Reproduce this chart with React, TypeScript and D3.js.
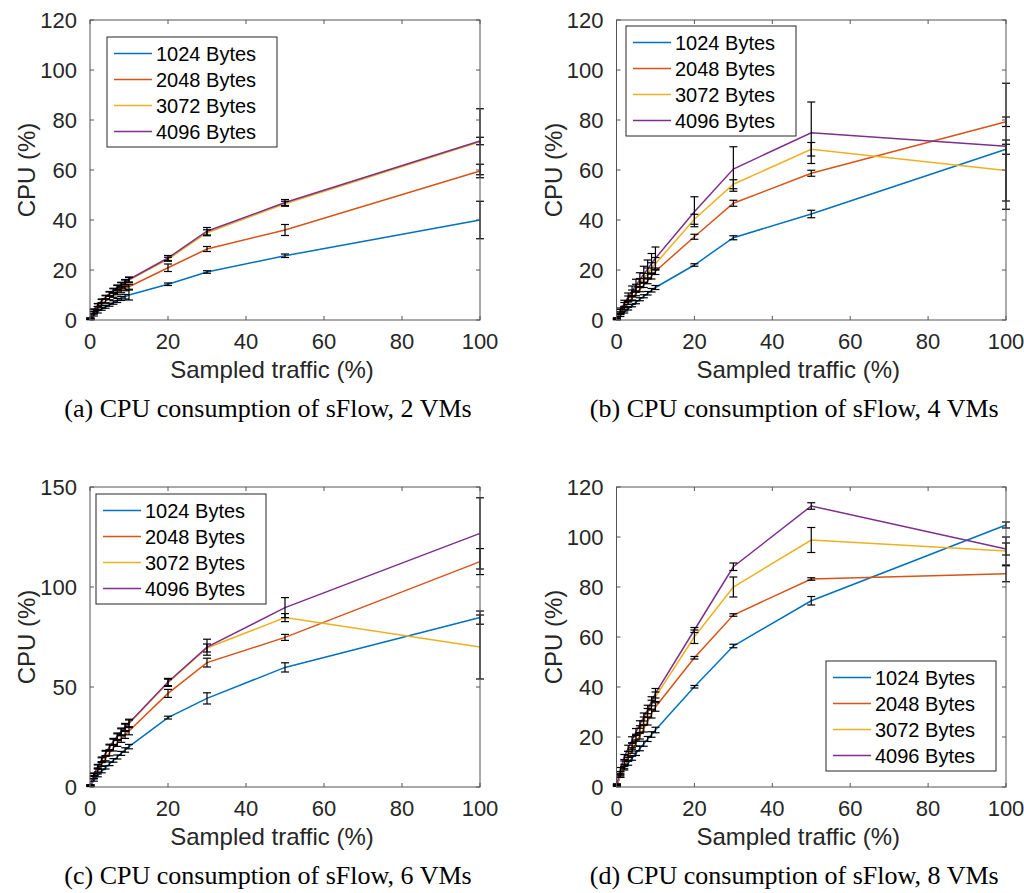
import React from 'react';
import * as d3 from 'd3';

// Sampling rates (%) on the x axis
const sampledTraffic = [0.1, 1, 2, 3, 4, 5, 6, 7, 8, 9, 10, 20, 30, 50, 100];
const packetSizes = ['1024 Bytes', '2048 Bytes', '3072 Bytes', '4096 Bytes'];
const seriesColors = ['#0072BD', '#D95319', '#EDB120', '#7E2F8E'];
const xTicks = [0, 20, 40, 60, 80, 100];
const yTicks120 = [0, 20, 40, 60, 80, 100, 120];
const yTicks150 = [0, 50, 100, 150];

// (a) 2 VMs
const vm2_1024 = [0.3, 2.0, 3.3, 4.4, 5.3, 6.1, 7.0, 7.8, 8.6, 9.3, 10.0, 14.3, 19.2, 25.7, 40.0];
const vm2_2048 = [0.5, 3.0, 4.8, 6.3, 7.6, 8.8, 9.9, 10.9, 11.8, 12.6, 13.3, 20.9, 28.4, 36.0, 59.6];
const vm2_3072 = [0.6, 3.8, 5.9, 7.5, 9.0, 10.4, 11.7, 12.9, 14.0, 15.0, 16.0, 24.3, 34.9, 46.5, 71.3];
const vm2_4096 = [0.6, 3.9, 6.0, 7.7, 9.2, 10.6, 11.9, 13.1, 14.2, 15.2, 16.2, 24.8, 35.5, 47.0, 71.6];
const vm2_1024_err = [0.2, 0.4, 0.5, 0.5, 0.6, 0.6, 0.7, 0.8, 0.8, 0.9, 2.0, 0.5, 0.5, 0.7, 7.5];
const vm2_2048_err = [0.2, 0.5, 0.6, 0.6, 0.7, 0.7, 0.8, 0.8, 0.9, 0.9, 1.0, 1.5, 1.0, 2.2, 2.7];
const vm2_3072_err = [0.2, 0.5, 0.6, 0.7, 0.7, 0.8, 0.8, 0.9, 0.9, 1.0, 1.0, 0.8, 1.2, 1.0, 13.2];
const vm2_4096_err = [0.2, 0.5, 0.6, 0.7, 0.7, 0.8, 0.8, 0.9, 0.9, 1.0, 1.0, 1.0, 1.5, 1.2, 1.5];

// (b) 4 VMs
const vm4_1024 = [0.3, 1.8, 3.2, 4.5, 5.8, 7.1, 8.3, 9.5, 10.7, 11.9, 13.0, 22.0, 32.9, 42.4, 68.3];
const vm4_2048 = [0.4, 2.8, 4.9, 6.9, 8.8, 10.6, 12.3, 14.0, 15.6, 17.6, 19.5, 33.3, 46.7, 58.7, 79.3];
const vm4_3072 = [0.5, 3.4, 6.0, 8.4, 10.6, 12.7, 14.8, 16.7, 18.6, 20.6, 22.5, 40.3, 54.3, 68.3, 59.8];
const vm4_4096 = [0.6, 3.8, 6.6, 9.2, 11.6, 13.9, 16.1, 18.3, 20.4, 22.6, 24.7, 43.3, 60.4, 74.9, 69.5];
const vm4_1024_err = [0.2, 0.4, 0.4, 0.5, 0.5, 0.6, 0.6, 0.6, 0.7, 0.7, 0.8, 0.5, 0.8, 1.5, 2.0];
const vm4_2048_err = [0.2, 0.5, 0.6, 0.7, 0.8, 0.9, 1.0, 1.0, 1.1, 1.2, 1.3, 1.0, 1.2, 1.2, 1.9];
const vm4_3072_err = [0.2, 0.8, 1.0, 1.2, 1.4, 1.6, 1.8, 2.0, 2.2, 2.3, 2.5, 2.0, 1.8, 2.7, 12.2];
const vm4_4096_err = [0.3, 1.0, 1.3, 1.6, 2.0, 2.4, 2.8, 3.2, 3.6, 4.0, 4.5, 6.0, 8.9, 12.3, 25.2];

// (c) 6 VMs
const vm6_1024 = [0.5, 3.5, 5.8, 7.9, 9.8, 11.6, 13.3, 15.0, 16.8, 18.5, 20.2, 34.7, 44.3, 59.8, 84.7];
const vm6_2048 = [0.7, 5.0, 8.5, 11.5, 14.4, 17.0, 19.5, 21.9, 24.0, 26.1, 28.0, 46.8, 62.2, 74.8, 112.7];
const vm6_3072 = [0.8, 6.0, 10.0, 13.4, 16.6, 19.6, 22.4, 25.0, 27.4, 29.6, 31.6, 52.1, 69.5, 84.7, 70.0];
const vm6_4096 = [0.8, 6.2, 10.3, 13.8, 17.0, 20.0, 22.8, 25.4, 27.8, 30.0, 32.0, 52.5, 69.9, 89.7, 126.8];
const vm6_1024_err = [0.3, 0.6, 0.7, 0.8, 0.8, 0.9, 0.9, 1.0, 1.0, 1.1, 1.1, 0.7, 2.8, 2.3, 3.3];
const vm6_2048_err = [0.3, 0.8, 1.0, 1.2, 1.3, 1.4, 1.5, 1.6, 1.7, 1.8, 1.9, 2.0, 2.2, 1.5, 6.5];
const vm6_3072_err = [0.3, 0.8, 1.0, 1.2, 1.3, 1.4, 1.5, 1.6, 1.7, 1.8, 1.9, 1.8, 2.0, 2.0, 16.0];
const vm6_4096_err = [0.3, 0.8, 1.0, 1.2, 1.3, 1.4, 1.5, 1.6, 1.7, 1.8, 1.9, 1.8, 4.0, 5.0, 17.8];

// (d) 8 VMs
const vm8_1024 = [0.6, 4.5, 7.5, 9.5, 11.5, 13.5, 15.4, 17.3, 19.2, 21.0, 22.8, 40.1, 56.4, 74.5, 104.8];
const vm8_2048 = [0.6, 4.6, 8.2, 11.5, 14.6, 17.6, 20.5, 23.4, 26.3, 29.2, 32.0, 51.7, 68.8, 83.2, 85.3];
const vm8_3072 = [0.7, 5.3, 9.4, 13.0, 16.4, 19.7, 23.0, 26.4, 29.7, 32.9, 36.1, 60.1, 80.0, 98.8, 94.4];
const vm8_4096 = [1.0, 7.0, 12.0, 15.5, 18.8, 22.0, 25.0, 28.0, 31.0, 34.3, 37.5, 62.8, 88.1, 112.4, 95.2];
const vm8_1024_err = [0.3, 0.6, 0.7, 0.8, 0.8, 0.9, 0.9, 1.0, 1.0, 1.1, 1.1, 0.5, 0.7, 1.7, 1.2];
const vm8_2048_err = [0.3, 0.7, 0.9, 1.0, 1.1, 1.2, 1.3, 1.4, 1.5, 1.6, 1.7, 0.5, 0.5, 0.5, 3.2];
const vm8_3072_err = [0.3, 0.8, 1.0, 1.2, 1.3, 1.4, 1.5, 1.6, 1.7, 1.8, 1.9, 2.7, 4.0, 5.0, 5.6];
const vm8_4096_err = [0.3, 0.8, 1.0, 1.2, 1.3, 1.4, 1.5, 1.6, 1.7, 1.8, 1.9, 1.0, 1.5, 1.3, 2.4];

const captions = [
  '(a) CPU consumption of sFlow, 2 VMs',
  '(b) CPU consumption of sFlow, 4 VMs',
  '(c) CPU consumption of sFlow, 6 VMs',
  '(d) CPU consumption of sFlow, 8 VMs',
];

const SANS = '"Liberation Sans", Arial, Helvetica, sans-serif';
const SERIF = '"Liberation Serif", "Times New Roman", serif';
const AXIS_COLOR = '#555';
const TEXT_COLOR = '#262626';

type PanelProps = {
  left: number; right: number; top: number; bottom: number;
  yMax: number; yTicks: number[];
  values: number[][]; errors: number[][];
  legendX: number; legendY: number;
  caption: string; captionY: number;
};

function Panel(p: PanelProps) {
  const x = d3.scaleLinear().domain([0, 100]).range([p.left, p.right]);
  const y = d3.scaleLinear().domain([0, p.yMax]).range([p.bottom, p.top]);
  const line = d3.line<number>().x((_, i) => x(sampledTraffic[i])).y((d) => y(d));
  const tl = 4;
  const cap = 4;
  const cx = (p.left + p.right) / 2;
  const legW = 170, legH = 110, rowH = 26;
  return (
    <g>
      {/* series lines */}
      {p.values.map((vals, s) => (
        <path key={'l' + s} d={line(vals) || ''} fill="none" stroke={seriesColors[s]} strokeWidth={1.5} />
      ))}
      {/* error bars */}
      {p.values.map((vals, s) => (
        <g key={'e' + s} stroke="#000" strokeWidth={1.2}>
          {vals.map((v, i) => {
            const e = p.errors[s][i];
            const xx = x(sampledTraffic[i]);
            const y1 = y(v + e), y0 = y(Math.max(0, v - e));
            return (
              <g key={i}>
                <line x1={xx} x2={xx} y1={y1} y2={y0} />
                <line x1={xx - cap} x2={xx + cap} y1={y1} y2={y1} />
                <line x1={xx - cap} x2={xx + cap} y1={y0} y2={y0} />
              </g>
            );
          })}
        </g>
      ))}
      {/* box */}
      <rect x={p.left} y={p.top} width={p.right - p.left} height={p.bottom - p.top} fill="none" stroke={AXIS_COLOR} strokeWidth={1} />
      {/* ticks */}
      <g stroke={AXIS_COLOR} strokeWidth={1}>
        {xTicks.map((t) => (
          <g key={'xt' + t}>
            <line x1={x(t)} x2={x(t)} y1={p.bottom} y2={p.bottom - tl} />
            <line x1={x(t)} x2={x(t)} y1={p.top} y2={p.top + tl} />
          </g>
        ))}
        {p.yTicks.map((t) => (
          <g key={'yt' + t}>
            <line x1={p.left} x2={p.left + tl} y1={y(t)} y2={y(t)} />
            <line x1={p.right} x2={p.right - tl} y1={y(t)} y2={y(t)} />
          </g>
        ))}
      </g>
      {/* tick labels */}
      <g fontFamily={SANS} fontSize={22} fill={TEXT_COLOR}>
        {xTicks.map((t) => (
          <text key={'xl' + t} x={x(t)} y={p.bottom + 29} textAnchor="middle">{t}</text>
        ))}
        {p.yTicks.map((t) => (
          <text key={'yl' + t} x={p.left - 13} y={y(t) + 8} textAnchor="end">{t}</text>
        ))}
      </g>
      {/* axis labels */}
      <text x={cx - 13} y={p.bottom + 58} textAnchor="middle" fontFamily={SANS} fontSize={24} fill={TEXT_COLOR}>
        Sampled traffic (%)
      </text>
      <text
        transform={`translate(${p.left - 55},${(p.top + p.bottom) / 2}) rotate(-90)`}
        textAnchor="middle" fontFamily={SANS} fontSize={24} fill={TEXT_COLOR}
      >
        CPU (%)
      </text>
      {/* legend */}
      <g transform={`translate(${p.legendX},${p.legendY})`}>
        <rect x={0} y={0} width={legW} height={legH} fill="#fff" stroke={TEXT_COLOR} strokeWidth={1} />
        {packetSizes.map((name, s) => (
          <g key={name} transform={`translate(0,${16.5 + s * rowH})`}>
            <line x1={7} x2={45} y1={0} y2={0} stroke={seriesColors[s]} strokeWidth={1.5} />
            <text x={49} y={7} fontFamily={SANS} fontSize={20} fill="#000">{name}</text>
          </g>
        ))}
      </g>
      {/* caption */}
      <text x={cx - 17} y={p.captionY} textAnchor="middle" fontFamily={SERIF} fontSize={26} fill="#000">
        {p.caption}
      </text>
    </g>
  );
}

export default function App() {
  return (
    <svg width={1024} height={893} style={{ position: 'absolute', left: 0, top: 0, background: '#fff' }}>
      <Panel left={90} right={480} top={20} bottom={320} yMax={120} yTicks={yTicks120}
        values={[vm2_1024, vm2_2048, vm2_3072, vm2_4096]}
        errors={[vm2_1024_err, vm2_2048_err, vm2_3072_err, vm2_4096_err]}
        legendX={107} legendY={37} caption={captions[0]} captionY={417} />
      <Panel left={616.5} right={1006} top={20} bottom={320} yMax={120} yTicks={yTicks120}
        values={[vm4_1024, vm4_2048, vm4_3072, vm4_4096]}
        errors={[vm4_1024_err, vm4_2048_err, vm4_3072_err, vm4_4096_err]}
        legendX={626} legendY={26} caption={captions[1]} captionY={417} />
      <Panel left={90} right={480} top={487} bottom={787} yMax={150} yTicks={yTicks150}
        values={[vm6_1024, vm6_2048, vm6_3072, vm6_4096]}
        errors={[vm6_1024_err, vm6_2048_err, vm6_3072_err, vm6_4096_err]}
        legendX={96} legendY={494} caption={captions[2]} captionY={884} />
      <Panel left={616.5} right={1006} top={487} bottom={787} yMax={120} yTicks={yTicks120}
        values={[vm8_1024, vm8_2048, vm8_3072, vm8_4096]}
        errors={[vm8_1024_err, vm8_2048_err, vm8_3072_err, vm8_4096_err]}
        legendX={826} legendY={661} caption={captions[3]} captionY={884} />
    </svg>
  );
}
